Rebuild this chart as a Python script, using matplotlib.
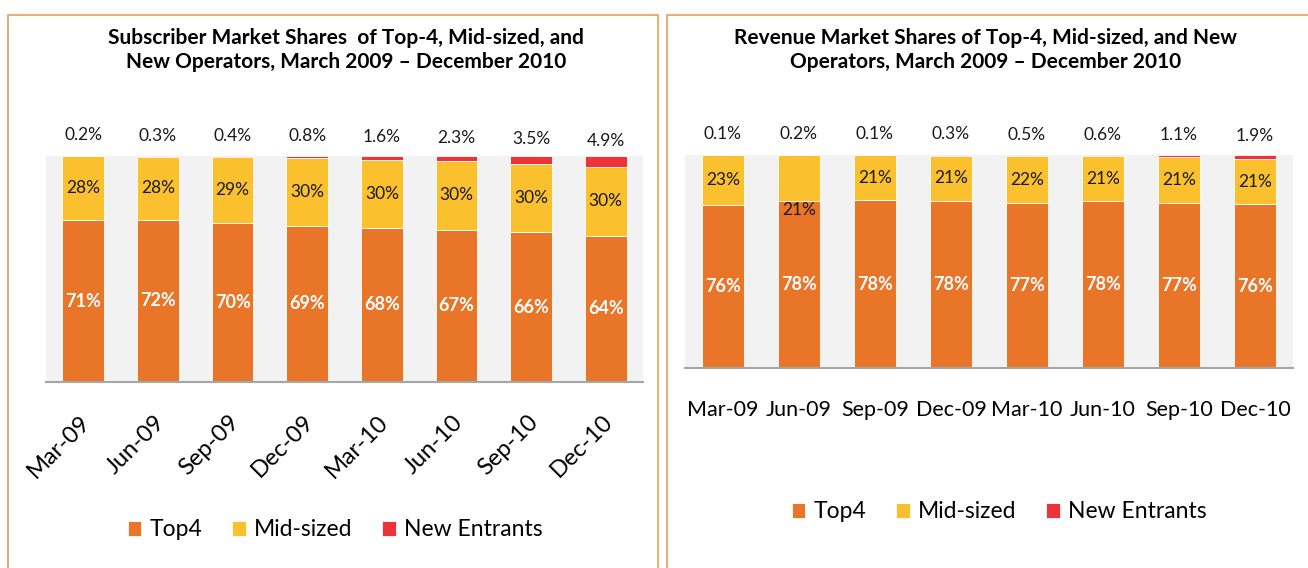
import numpy as np
import matplotlib
matplotlib.use('Agg')
import matplotlib.pyplot as plt
from matplotlib.patches import Rectangle
from matplotlib.transforms import ScaledTranslation

plt.rcParams['font.family'] = ['Lato', 'DejaVu Sans']

QUARTERS = ['Mar-09', 'Jun-09', 'Sep-09', 'Dec-09', 'Mar-10', 'Jun-10', 'Sep-10', 'Dec-10']
SERIES = ['Top4', 'Mid-sized', 'New Entrants']

SUB_TOP4 = [71, 72, 70, 69, 68, 67, 66, 64]
SUB_MID = [28, 28, 29, 30, 30, 30, 30, 30]
SUB_NEW = [0.2, 0.3, 0.4, 0.8, 1.6, 2.3, 3.5, 4.9]

REV_TOP4 = [76, 78, 78, 78, 77, 78, 77, 76]
REV_MID = [23, 21, 21, 21, 22, 21, 21, 21]
REV_NEW = [0.1, 0.2, 0.1, 0.3, 0.5, 0.6, 1.1, 1.9]

SUB_TITLE = 'Subscriber Market Shares  of Top-4, Mid-sized, and\nNew Operators, March 2009 \u2013 December 2010'
REV_TITLE = 'Revenue Market Shares of Top-4, Mid-sized, and New\nOperators, March 2009 \u2013 December 2010'

C_TOP, C_MID, C_NEW = '#E87528', '#FBC02D', '#EE3338'
BG = '#F2F2F2'
W, H = 1308, 568


def px(x0, y0, x1, y1):
    # pixel box (top-left origin) -> figure fraction rect
    return [x0 / W, 1 - y1 / H, (x1 - x0) / W, (y1 - y0) / H]


def panel(ax, top4, mid, new, rotate, mid_nudge=None):
    top4, mid, new = map(np.asarray, (top4, mid, new))
    tot = top4 + mid + new  # 100% stacked
    a, b, c = top4 / tot, mid / tot, new / tot
    x = np.arange(len(QUARTERS))
    kw = dict(width=0.56, edgecolor='white', linewidth=0.6)
    ax.bar(x, a, color=C_TOP, label=SERIES[0], **kw)
    ax.bar(x, b, bottom=a, color=C_MID, label=SERIES[1], **kw)
    ax.bar(x, c, bottom=a + b, color=C_NEW, label=SERIES[2], **kw)
    for i in x:
        ax.text(i, a[i] / 2, f'{top4[i]:.0f}%', ha='center', va='center',
                color='white', fontsize=13, fontweight='bold')
        dy = (mid_nudge or {}).get(i)
        ym = a[i] + b[i] / 2 if dy is None else a[i] - dy
        ax.text(i, ym, f'{mid[i]:.0f}%', ha='center', va='center',
                color='#1a1a1a', fontsize=12.5)
        ax.annotate(f'{new[i]:.1f}%', (i, a[i] + b[i] + c[i] / 2), xytext=(0, 15),
                    textcoords='offset points', ha='center', va='center',
                    color='#1a1a1a', fontsize=12.5)
    ax.set_facecolor(BG)
    ax.set_xlim(-0.5, len(x) - 0.5)
    ax.set_ylim(0, 1)
    ax.set_yticks([])
    for s in ('top', 'left', 'right'):
        ax.spines[s].set_visible(False)
    ax.spines['bottom'].set_color('#A6A6A6')
    ax.spines['bottom'].set_linewidth(1.5)
    ax.set_xticks(x)
    if rotate:
        ax.set_xticklabels(QUARTERS, rotation=45, ha='right', rotation_mode='anchor',
                           fontsize=17)
        ax.tick_params(axis='x', length=0, pad=21)
        off = ScaledTranslation(-4 / 100, 0, ax.figure.dpi_scale_trans)
        for t in ax.get_xticklabels():
            t.set_transform(t.get_transform() + off)
    else:
        ax.set_xticklabels(QUARTERS, fontsize=15.5)
        ax.tick_params(axis='x', length=0, pad=23)


fig = plt.figure(figsize=(W / 100, H / 100), dpi=100)

for box in ((8, 15, 658, 580), (667, 15, 1320, 580)):
    r = px(*box)
    fig.patches.append(Rectangle(r[:2], r[2], r[3], transform=fig.transFigure,
                                 fill=False, edgecolor='#E6A05A', linewidth=1.2))

ax1 = fig.add_axes(px(46, 156, 643, 382))
panel(ax1, SUB_TOP4, SUB_MID, SUB_NEW, rotate=True)
ax2 = fig.add_axes(px(685, 155, 1293, 368))
panel(ax2, REV_TOP4, REV_MID, REV_NEW, rotate=False, mid_nudge={1: 0.045})

fig.text(346 / W, 1 - 50 / H, SUB_TITLE, ha='center', va='center', fontsize=15,
         fontweight='bold', linespacing=1.3)
fig.text(986 / W, 1 - 50 / H, REV_TITLE, ha='center', va='center', fontsize=15,
         fontweight='bold', linespacing=1.3)

for ax, cx, cy in ((ax1, 335, 530), (ax2, 999, 512)):
    h, l = ax.get_legend_handles_labels()
    fig.legend(h, l, loc='center', bbox_to_anchor=(cx / W, 1 - cy / H), ncol=3,
               frameon=False, fontsize=16.5, handlelength=0.6, handleheight=0.6,
               handletextpad=0.35, columnspacing=1.3)

fig.savefig('out.png', dpi=100)
